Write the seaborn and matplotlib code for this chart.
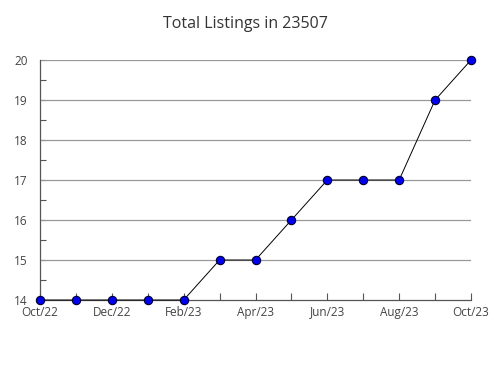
import matplotlib
matplotlib.use("Agg")
import matplotlib.pyplot as plt
import seaborn as sns
import pandas as pd
from matplotlib.ticker import MultipleLocator

months = ["Oct/22", "Nov/22", "Dec/22", "Jan/23", "Feb/23", "Mar/23", "Apr/23",
          "May/23", "Jun/23", "Jul/23", "Aug/23", "Sep/23", "Oct/23"]
listings = [14, 14, 14, 14, 14, 15, 15, 16, 17, 17, 17, 19, 20]
yticks = [14, 15, 16, 17, 18, 19, 20]

sns.set_style("white")
plt.rcParams['font.family'] = ['Open Sans', 'DejaVu Sans']

df = pd.DataFrame({"idx": range(len(months)), "month": months, "value": listings})

fig = plt.figure(figsize=(4.9, 3.8), dpi=100)
ax = fig.add_axes([40/490, 1 - 300/380, 431/490, 240/380])

for y in yticks[1:]:
    ax.axhline(y, color="#999999", lw=0.9, zorder=1)

sns.lineplot(data=df, x="idx", y="value", ax=ax, color="black", lw=0.7,
             marker="o", markersize=6, markerfacecolor="#0000ee",
             markeredgecolor="#000033", markeredgewidth=0.8, zorder=3, clip_on=False)

ax.set_xlim(0, len(months) - 1)
ax.set_ylim(14, 20)
ax.set_xticks(range(0, len(months), 2))
ax.set_xticklabels(months[::2])
ax.xaxis.set_minor_locator(MultipleLocator(1))
ax.set_yticks(yticks)
ax.yaxis.set_minor_locator(MultipleLocator(0.5))
ax.set_xlabel("")
ax.set_ylabel("")

for s in ["top", "right"]:
    ax.spines[s].set_visible(False)
for s in ["left", "bottom"]:
    ax.spines[s].set_color("#555555")
    ax.spines[s].set_linewidth(0.9)

ax.tick_params(axis="x", which="both", direction="in", length=5, width=0.8,
               color="#555555", labelsize=8.5, labelcolor="#444444", pad=4, bottom=True)
ax.tick_params(axis="y", which="both", direction="in", length=4, width=0.8,
               color="#555555", labelsize=8.5, labelcolor="#444444", pad=9, left=True)

fig.suptitle("Total Listings in 23507", y=1 - 16/380, fontsize=11.5, color="#333333")

fig.savefig("out.png", dpi=100)
